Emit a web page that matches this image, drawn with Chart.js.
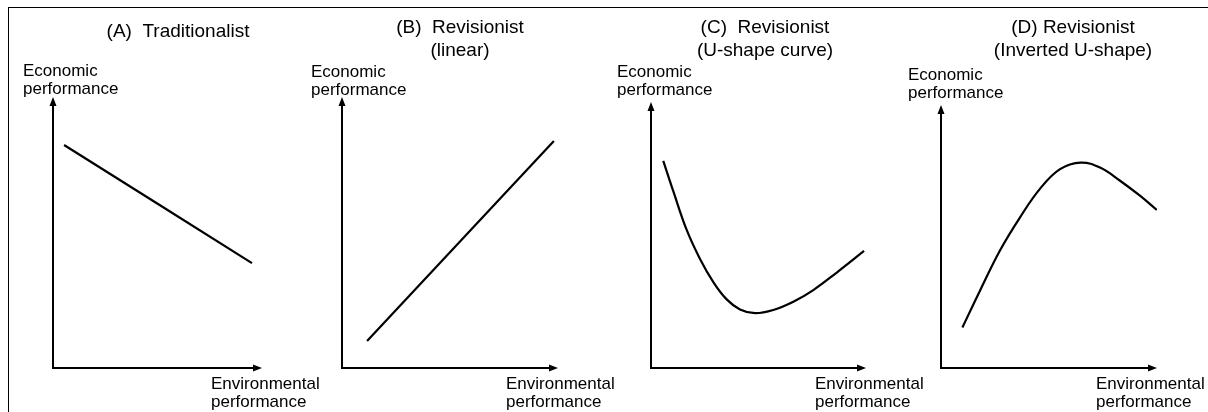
<!DOCTYPE html>
<html>
<head>
<meta charset="utf-8">
<script src="https://cdn.jsdelivr.net/npm/chart.js@4"></script>
<style>
    html, body { margin: 0; padding: 0; background: #fff; }
    #wrap { position: relative; width: 1208px; height: 412px; overflow: hidden; }
    #wrap canvas { position: absolute; left: 0; top: 0; }
    #frame { position: absolute; left: 8px; top: 7px; width: 1210px; height: 410px; border-left: 1px solid #000; border-top: 1px solid #000; }
</style>
</head>
<body>
<div id="wrap">
    <div id="frame"></div>
    <canvas id="panelA" width="1208" height="412"></canvas>
    <canvas id="panelB" width="1208" height="412"></canvas>
    <canvas id="panelC" width="1208" height="412"></canvas>
    <canvas id="panelD" width="1208" height="412"></canvas>
</div>
<script>
// Text
const yAxisLabel = ['Economic', 'performance'];
const xAxisLabel = ['Environmental', 'performance'];

// (A) Traditionalist - falling straight line
const tradTitle = ['(A)  Traditionalist'];
const tradX = [0.53, 9.52];
const tradY = [8.23, 3.87];

// (B) Revisionist - rising straight line
const linTitle = ['(B)  Revisionist', '(linear)'];
const linX = [1.16, 9.81];
const linY = [1.00, 8.38];

// (C) Revisionist - U-shape
const uTitle = ['(C)  Revisionist', '(U-shape curve)'];
const uX = [0.57, 1.04, 1.66, 2.28, 2.90, 3.52, 4.14, 4.84, 5.69, 6.62, 7.55, 8.64, 9.91];
const uY = [7.79, 6.64, 5.19, 4.10, 3.23, 2.58, 2.20, 2.06, 2.18, 2.49, 2.93, 3.59, 4.40];

// (D) Revisionist - inverted U
const invTitle = ['(D) Revisionist', '(Inverted U-shape)'];
const invX = [0.99, 1.81, 2.73, 3.66, 4.58, 5.51, 6.47, 7.36, 8.29, 9.21, 9.99];
const invY = [1.54, 2.95, 4.47, 5.73, 6.81, 7.56, 7.81, 7.62, 7.12, 6.55, 6.01];

const FONT = '"Liberation Sans", Arial, sans-serif';

// draws the arrowed axes and the labels of one panel
const sketchAxes = {
    id: 'sketchAxes',
    afterDatasetsDraw(chart, args, opts) {
        const ctx = chart.ctx;
        const a = chart.chartArea;
        ctx.save();
        ctx.strokeStyle = '#000';
        ctx.fillStyle = '#000';
        ctx.lineWidth = 2;

        ctx.beginPath();
        ctx.moveTo(a.left, a.bottom + 1);
        ctx.lineTo(a.left, a.top + 8);
        ctx.moveTo(a.left - 1, a.bottom);
        ctx.lineTo(a.right - 8, a.bottom);
        ctx.stroke();

        ctx.beginPath();
        ctx.moveTo(a.left, a.top);
        ctx.lineTo(a.left - 3.5, a.top + 9);
        ctx.lineTo(a.left + 3.5, a.top + 9);
        ctx.closePath();
        ctx.moveTo(a.right, a.bottom);
        ctx.lineTo(a.right - 9, a.bottom - 3.5);
        ctx.lineTo(a.right - 9, a.bottom + 3.5);
        ctx.closePath();
        ctx.fill();

        ctx.textBaseline = 'alphabetic';
        ctx.font = '19px ' + FONT;
        ctx.textAlign = 'center';
        opts.title.forEach((t, i) => ctx.fillText(t, opts.titleX, opts.titleY + i * 23));

        ctx.font = '17px ' + FONT;
        ctx.textAlign = 'left';
        yAxisLabel.forEach((t, i) => ctx.fillText(t, opts.yLabelX, opts.yLabelY + i * 18));
        xAxisLabel.forEach((t, i) => ctx.fillText(t, opts.xLabelX, 389 + i * 18));
        ctx.restore();
    }
};

function panel(id, xs, ys, box, labels) {
    new Chart(document.getElementById(id), {
        type: 'scatter',
        data: {
            datasets: [{
                data: xs.map((x, i) => ({ x: x, y: ys[i] })),
                showLine: true,
                borderColor: '#000',
                borderWidth: 2.2,
                pointRadius: 0,
                tension: 0.4
            }]
        },
        options: {
            responsive: false,
            animation: false,
            events: [],
            layout: { padding: { left: box[0], right: 1208 - box[1], top: box[2], bottom: 412 - 368 } },
            scales: {
                x: { type: 'linear', min: 0, max: 10, display: false },
                y: { type: 'linear', min: 0, max: 10, display: false }
            },
            plugins: {
                legend: { display: false },
                tooltip: { enabled: false },
                sketchAxes: labels
            }
        },
        plugins: [sketchAxes]
    });
}

panel('panelA', tradX, tradY, [53, 262, 97],
    { title: tradTitle, titleX: 178, titleY: 37, yLabelX: 23, yLabelY: 76, xLabelX: 211 });
panel('panelB', linX, linY, [342, 558, 97],
    { title: linTitle, titleX: 460, titleY: 33, yLabelX: 311, yLabelY: 77, xLabelX: 506 });
panel('panelC', uX, uY, [651, 866, 102],
    { title: uTitle, titleX: 765, titleY: 33, yLabelX: 617, yLabelY: 77, xLabelX: 815 });
panel('panelD', invX, invY, [941, 1157, 105],
    { title: invTitle, titleX: 1073, titleY: 33, yLabelX: 908, yLabelY: 80, xLabelX: 1096 });
</script>
</body>
</html>
